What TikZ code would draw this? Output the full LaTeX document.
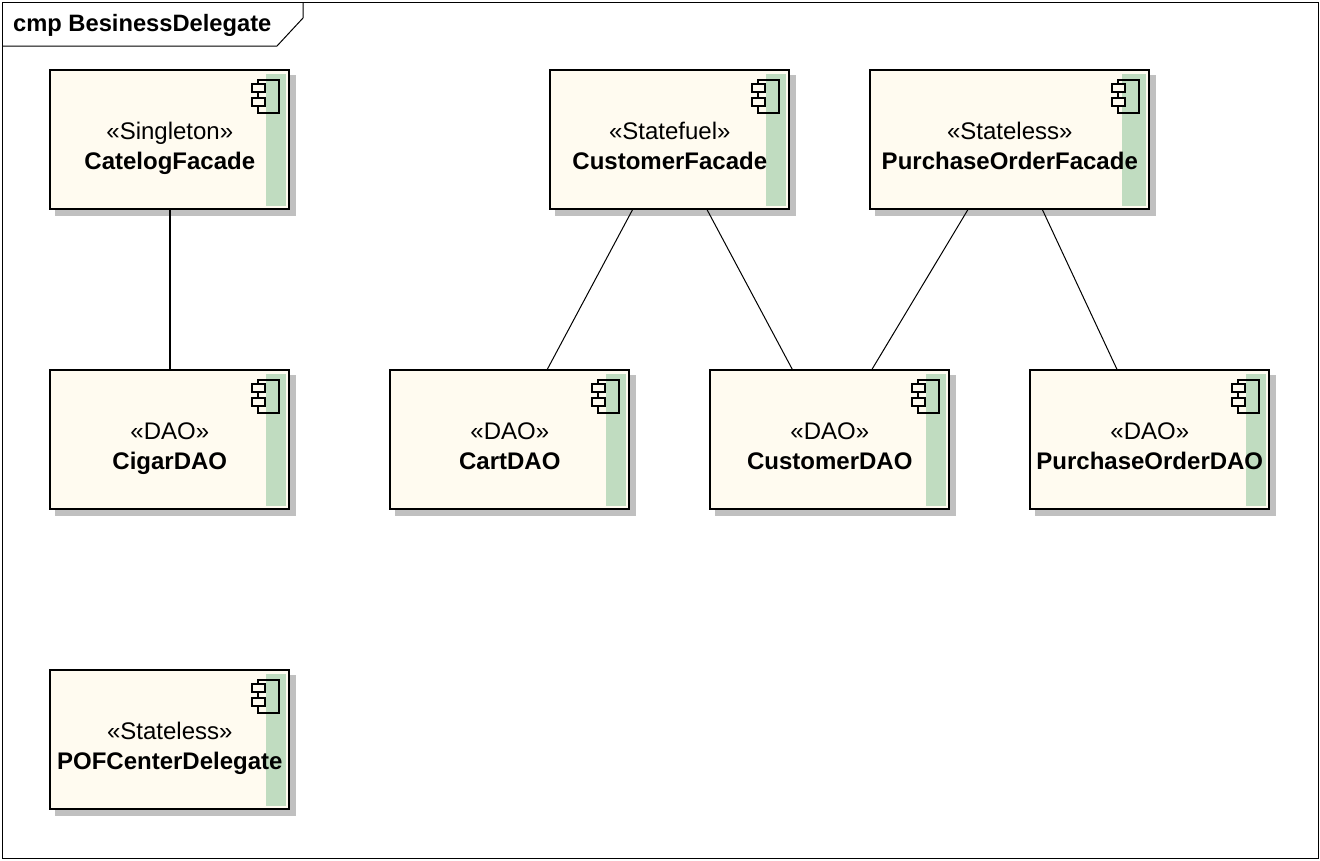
\documentclass[tikz,border=0pt]{standalone}
\usepackage{fontspec}
\setmainfont{Liberation Sans}
\usetikzlibrary{positioning,shadows}

\definecolor{compfill}{HTML}{FFFBF0}
\definecolor{compband}{HTML}{C0DCC0}
\definecolor{compshadow}{HTML}{C0C0C0}

\newcommand{\compbody}[2]{\rule{0pt}{35.5pt}«#1»\\\textbf{#2}\rule[-6pt]{0pt}{1pt}}
\tikzset{band width/.store in=\bandwidth, band width=23}

\begin{document}
\begin{tikzpicture}[
  x=1pt, y=-1pt,
  comp/.style={rectangle, draw, line width=2pt, fill=compfill, inner sep=0pt, outer sep=0pt,
    minimum width=239pt, minimum height=139pt, align=center,
    font=\fontsize{24}{30}\selectfont,
    drop shadow={shadow xshift=6pt, shadow yshift=-6pt, draw=compshadow, fill=compshadow, opacity=1},
    path picture={
      \fill[compband] ([shift={(-\bandwidth,3.7)}]path picture bounding box.north east)
        rectangle ([shift={(-3,-3)}]path picture bounding box.south east);
      \draw[line width=2pt] ([shift={(-31,9.7)}]path picture bounding box.north east)
        rectangle ([shift={(-10.5,42.5)}]path picture bounding box.north east);
      \draw[line width=2pt, fill=compfill] ([shift={(-37,14)}]path picture bounding box.north east)
        rectangle ([shift={(-24.5,22)}]path picture bounding box.north east);
      \draw[line width=2pt, fill=compfill] ([shift={(-37,28)}]path picture bounding box.north east)
        rectangle ([shift={(-24.5,36)}]path picture bounding box.north east);
    }},
  edge/.style={line width=1pt},
  boldedge/.style={line width=2pt}
]
  \useasboundingbox (0,0) rectangle (1320,860);
  \draw[line width=1pt] (2,2) rectangle (1318,858);
  \draw[line width=1pt] (2,46) -- (277,46) -- (303,18) -- (303,2);
  \node[anchor=west, inner sep=0pt, font=\fontsize{23.7}{26}\selectfont\bfseries] (title) at (13,25.5) {cmp BesinessDelegate};

  \node[comp] (catelog) at (169.8,139.8) {\compbody{Singleton}{CatelogFacade}};
  \node[comp, below=161pt of catelog] (cigar) {\compbody{DAO}{CigarDAO}};
  \node[comp, below=161pt of cigar] (pofcenter) {\compbody{Stateless}{POFCenterDelegate}};
  \node[comp, right=261pt of catelog] (customerfacade) {\compbody{Statefuel}{CustomerFacade}};
  \node[comp, minimum width=279pt, band width=27, right=81pt of customerfacade] (purchasefacade) {\compbody{Stateless}{PurchaseOrderFacade}};
  \node[comp, right=101pt of cigar] (cart) {\compbody{DAO}{CartDAO}};
  \node[comp, right=81pt of cart] (customer) {\compbody{DAO}{CustomerDAO}};
  \node[comp, right=81pt of customer] (purchase) {\compbody{DAO}{PurchaseOrderDAO}};

  \draw[boldedge] (catelog) -- (cigar);
  \draw[edge] (customerfacade) -- (cart);
  \draw[edge] (customerfacade) -- (customer);
  \draw[edge] (purchasefacade) -- (customer);
  \draw[edge] (purchasefacade) -- (purchase);
\end{tikzpicture}
\end{document}
